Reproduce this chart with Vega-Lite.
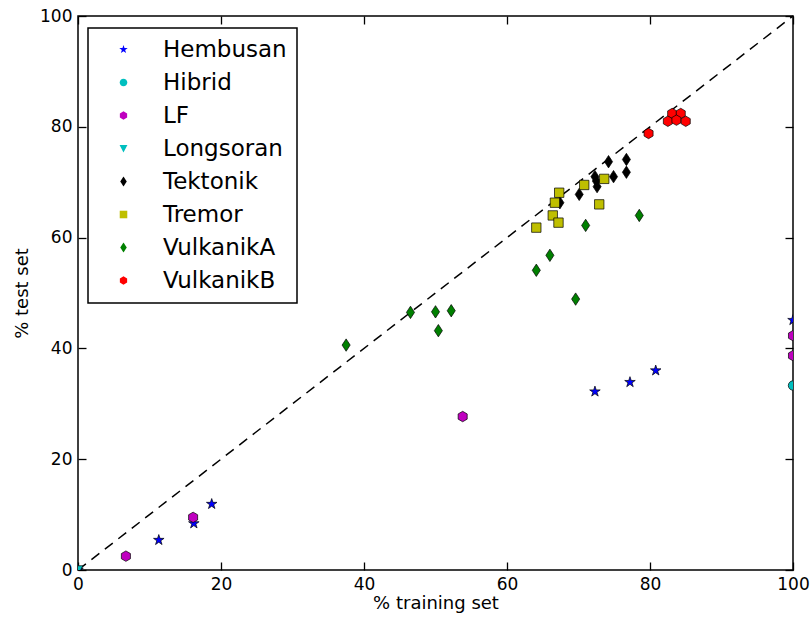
{
  "$schema": "https://vega.github.io/schema/vega-lite/v6.json",
  "width": 715,
  "height": 554,
  "autosize": {"type": "none"},
  "padding": {"left": 78, "top": 16, "right": 19, "bottom": 48},
  "background": "white",
  "config": {
    "font": "DejaVu Sans",
    "view": {"stroke": "black", "strokeWidth": 1.5},
    "axis": {
      "grid": false,
      "ticks": true,
      "zindex": 1,
      "labelFlush": false,
      "domain": false,
      "offset": -8,
      "tickSize": 8,
      "tickColor": "black",
      "tickWidth": 1.3,
      "tickOpacity": 1,
      "labelFont": "DejaVu Sans",
      "labelFontSize": 17,
      "labelColor": "black",
      "titleFont": "DejaVu Sans",
      "titleFontSize": 18,
      "titleFontWeight": "normal",
      "titleColor": "black"
    },
    "legend": {
      "orient": "none", "legendX": 10, "legendY": 12,
      "strokeColor": "black", "strokeWidth": 1.5, "fillColor": "white",
      "padding": 10, "symbolOffset": 14, "rowPadding": 9,
      "labelFontSize": 23, "labelFont": "DejaVu Sans", "labelColor": "black", "labelOffset": 28,
      "symbolSize": 110, "symbolStrokeColor": "black", "symbolStrokeWidth": 0.6, "symbolOpacity": 1
    }
  },
  "datasets": {
    "diag": [{"a": 0, "b": 0}, {"a": 100, "b": 100}]
  },
  "layer": [
    {
      "data": {"name": "diag"},
      "mark": {"type": "line", "color": "black", "strokeWidth": 1.5, "strokeDash": [10, 7]},
      "encoding": {
        "x": {"field": "a", "type": "quantitative", "scale": {"domain": [0, 100], "nice": false, "zero": false},
              "axis": {"orient": "top", "values": [0, 20, 40, 60, 80, 100], "labels": false, "title": null, "ticks": true}},
        "y": {"field": "b", "type": "quantitative", "scale": {"domain": [0, 100], "nice": false, "zero": false},
              "axis": {"orient": "right", "values": [0, 20, 40, 60, 80, 100], "labels": false, "title": null, "ticks": true}}
      }
    },
    {
      "data": {
        "values": [
          {"cls": "Hembusan", "train": 0, "test": 0},
          {"cls": "Hembusan", "train": 11.3, "test": 5.4},
          {"cls": "Hembusan", "train": 16.2, "test": 8.4},
          {"cls": "Hembusan", "train": 18.7, "test": 11.9},
          {"cls": "Hembusan", "train": 72.3, "test": 32.2},
          {"cls": "Hembusan", "train": 77.2, "test": 33.9},
          {"cls": "Hembusan", "train": 80.8, "test": 36.0},
          {"cls": "Hembusan", "train": 100, "test": 45.1},
          {"cls": "Hibrid", "train": 100, "test": 33.3},
          {"cls": "LF", "train": 6.7, "test": 2.5},
          {"cls": "LF", "train": 16.1, "test": 9.5},
          {"cls": "LF", "train": 53.8, "test": 27.7},
          {"cls": "LF", "train": 100, "test": 42.3},
          {"cls": "LF", "train": 100, "test": 38.7},
          {"cls": "Longsoran", "train": 0, "test": 0},
          {"cls": "Tektonik", "train": 74.2, "test": 73.7},
          {"cls": "Tektonik", "train": 76.7, "test": 74.1},
          {"cls": "Tektonik", "train": 76.7, "test": 71.8},
          {"cls": "Tektonik", "train": 74.9, "test": 71.0},
          {"cls": "Tektonik", "train": 72.3, "test": 71.0},
          {"cls": "Tektonik", "train": 72.5, "test": 70.2},
          {"cls": "Tektonik", "train": 72.6, "test": 69.2},
          {"cls": "Tektonik", "train": 70.1, "test": 67.8},
          {"cls": "Tektonik", "train": 67.4, "test": 66.3},
          {"cls": "Tremor", "train": 73.6, "test": 70.6},
          {"cls": "Tremor", "train": 70.8, "test": 69.5},
          {"cls": "Tremor", "train": 67.3, "test": 68.1},
          {"cls": "Tremor", "train": 66.7, "test": 66.3},
          {"cls": "Tremor", "train": 72.9, "test": 66.0},
          {"cls": "Tremor", "train": 66.4, "test": 64.0},
          {"cls": "Tremor", "train": 67.2, "test": 62.7},
          {"cls": "Tremor", "train": 64.1, "test": 61.8},
          {"cls": "VulkanikA", "train": 71.0, "test": 62.2},
          {"cls": "VulkanikA", "train": 78.5, "test": 64.0},
          {"cls": "VulkanikA", "train": 66.0, "test": 56.8},
          {"cls": "VulkanikA", "train": 64.1, "test": 54.1},
          {"cls": "VulkanikA", "train": 69.6, "test": 48.9},
          {"cls": "VulkanikA", "train": 37.5, "test": 40.6},
          {"cls": "VulkanikA", "train": 46.5, "test": 46.5},
          {"cls": "VulkanikA", "train": 50.0, "test": 46.6},
          {"cls": "VulkanikA", "train": 52.2, "test": 46.8},
          {"cls": "VulkanikA", "train": 50.4, "test": 43.2},
          {"cls": "VulkanikB", "train": 79.8, "test": 78.8},
          {"cls": "VulkanikB", "train": 83.1, "test": 82.4},
          {"cls": "VulkanikB", "train": 84.3, "test": 82.4},
          {"cls": "VulkanikB", "train": 82.5, "test": 81.0},
          {"cls": "VulkanikB", "train": 83.7, "test": 81.2},
          {"cls": "VulkanikB", "train": 85.0, "test": 81.0}
        ]
      },
      "mark": {"type": "point", "filled": true, "stroke": "black", "strokeWidth": 0.7, "opacity": 1, "size": 170, "clip": true},
      "encoding": {
        "x": {"field": "train", "type": "quantitative", "scale": {"domain": [0, 100], "nice": false, "zero": false},
              "axis": {"orient": "bottom", "values": [0, 20, 40, 60, 80, 100], "title": "% training set", "labelPadding": 6, "titlePadding": 2, "ticks": true}},
        "y": {"field": "test", "type": "quantitative", "scale": {"domain": [0, 100], "nice": false, "zero": false},
              "axis": {"orient": "left", "values": [0, 20, 40, 60, 80, 100], "title": "% test set", "labelPadding": 6, "titlePadding": 8, "ticks": true}},
        "fill": {
          "field": "cls", "type": "nominal",
          "scale": {
            "domain": ["Hembusan", "Hibrid", "LF", "Longsoran", "Tektonik", "Tremor", "VulkanikA", "VulkanikB"],
            "range": ["#0000ff", "#00bfbf", "#bf00bf", "#00bfbf", "#000000", "#bfbf00", "#008000", "#ff0000"]
          },
          "legend": {"title": null}
        },
        "shape": {
          "field": "cls", "type": "nominal",
          "scale": {
            "domain": ["Hembusan", "Hibrid", "LF", "Longsoran", "Tektonik", "Tremor", "VulkanikA", "VulkanikB"],
            "range": [
              "M0,-0.85L0.191,-0.263L0.808,-0.263L0.309,0.1L0.5,0.688L0,0.325L-0.5,0.688L-0.309,0.1L-0.808,-0.263L-0.191,-0.263Z",
              "M-0.72,0A0.72,0.72 0 1,0 0.72,0A0.72,0.72 0 1,0 -0.72,0Z",
              "M0,-0.8L0.693,-0.4L0.693,0.4L0,0.8L-0.693,0.4L-0.693,-0.4Z",
              "M-0.75,-0.65L0.75,-0.65L0,0.75Z",
              "M0,-0.95L0.62,0L0,0.95L-0.62,0Z",
              "M-0.72,-0.72L0.72,-0.72L0.72,0.72L-0.72,0.72Z",
              "M0,-0.95L0.62,0L0,0.95L-0.62,0Z",
              "M0,-0.8L0.693,-0.4L0.693,0.4L0,0.8L-0.693,0.4L-0.693,-0.4Z"
            ]
          },
          "legend": {"title": null}
        }
      }
    }
  ],
  "resolve": {"axis": {"x": "independent", "y": "independent"}}
}
